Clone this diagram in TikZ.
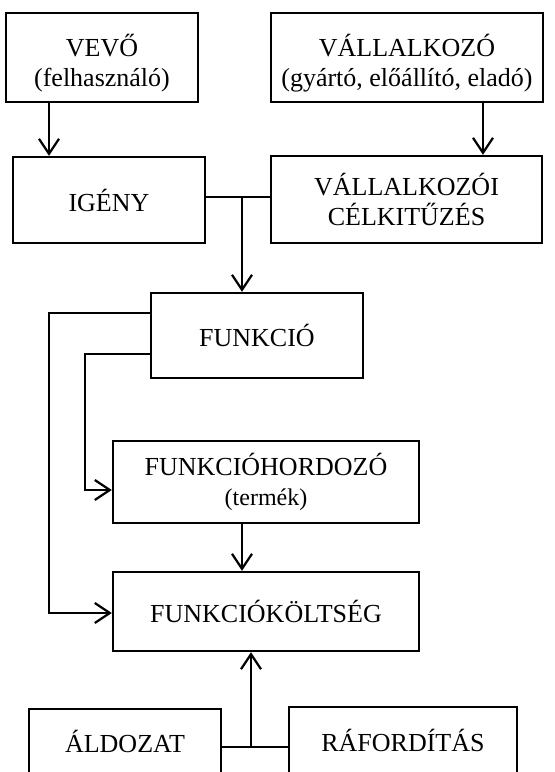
\documentclass[tikz,border=0pt]{standalone}
\usepackage{fontspec}
\setmainfont{Liberation Serif}
\usetikzlibrary{arrows.meta}

\begin{document}
\begin{tikzpicture}[x=0.5pt, y=-0.5pt,
  box/.style={draw, line width=1.2pt, align=center, inner sep=0pt, font=\fontsize{13}{15}\selectfont},
  arr/.style={line width=1.1pt, -{Straight Barb[length=7.5pt, width=10pt, line width=1.1pt]}},
  link/.style={line width=1.1pt}]
  \useasboundingbox (0,0) rectangle (555,772);
  \node[box, minimum width=96pt, minimum height=44.5pt] (vevo) at (102,57.5) {\rule{0pt}{17pt}VEVŐ\\(felhasználó)};
  \node[box, minimum width=136pt, minimum height=44.5pt] (vallalkozo) at (407,57.5) {\rule{0pt}{17pt}VÁLLALKOZÓ\\(gyártó, előállító, eladó)};
  \node[box, minimum width=96pt, minimum height=43pt] (igeny) at (109,200) {IGÉNY};
  \node[box, minimum width=135.5pt, minimum height=43.5pt] (celkituzes) at (406.5,199.5) {VÁLLALKOZÓI\\CÉLKITŰZÉS};
  \node[box, minimum width=106pt, minimum height=42.5pt] (funkcio) at (257,335.5) {FUNKCIÓ};
  \node[box, minimum width=153pt, minimum height=41pt] (hordozo) at (266,482) {FUNKCIÓHORDOZÓ\\{\fontsize{12}{14}\selectfont(termék)}};
  \node[box, minimum width=153pt, minimum height=39.5pt] (koltseg) at (266,611.5) {FUNKCIÓKÖLTSÉG};
  \node[box, minimum width=96pt, minimum height=32.5pt] (aldozat) at (125,741.5) {ÁLDOZAT};
  \node[box, minimum width=114pt, minimum height=33.5pt] (raforditas) at (403,740.5) {RÁFORDÍTÁS};

  \coordinate (vevox) at (49,0);
  \coordinate (vallx) at (483,0);
  \coordinate (felso) at (242,197);
  \coordinate (kulso) at (49,313);
  \coordinate (kulsole) at (49,613);
  \coordinate (belso) at (85,354);
  \coordinate (belsole) at (85,490);
  \coordinate (also) at (251,747);

  \draw[arr] (vevo.south -| vevox) -- (igeny.north -| vevox);
  \draw[arr] (vallalkozo.south -| vallx) -- (celkituzes.north -| vallx);
  \draw[link] (igeny.east |- felso) -- (celkituzes.west |- felso);
  \draw[arr] (felso) -- (funkcio.north -| felso);
  \draw[arr] (funkcio.west |- kulso) -- (kulso) -- (kulsole) -- (koltseg.west |- kulsole);
  \draw[arr] (funkcio.west |- belso) -- (belso) -- (belsole) -- (hordozo.west |- belsole);
  \draw[arr] (hordozo.south -| felso) -- (koltseg.north -| felso);
  \draw[link] (aldozat.east |- also) -- (raforditas.west |- also);
  \draw[arr] (also) -- (koltseg.south -| also);
\end{tikzpicture}
\end{document}
